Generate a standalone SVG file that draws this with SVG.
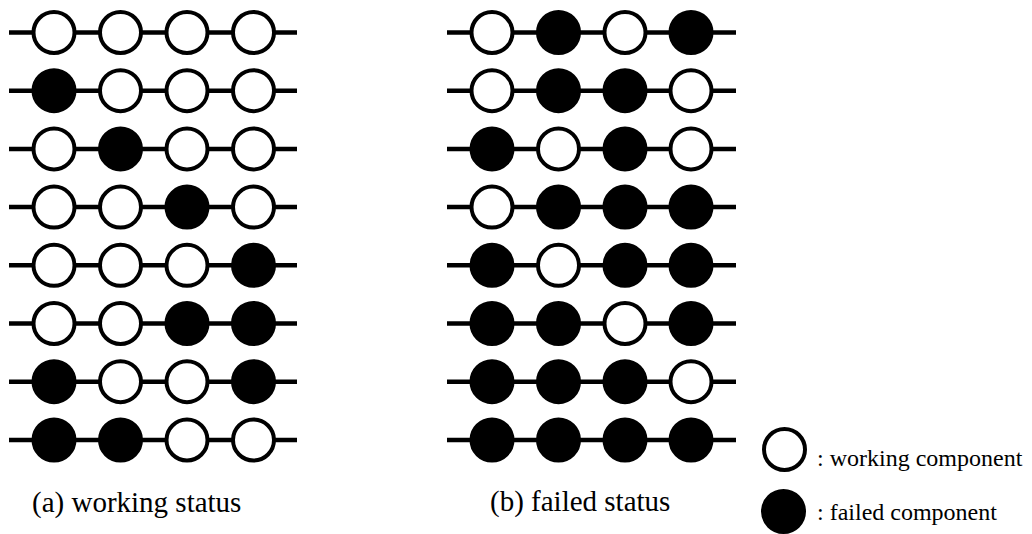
<svg xmlns="http://www.w3.org/2000/svg" width="1032" height="534" viewBox="0 0 1032 534">
<defs>
<style>
.ln{stroke:#000;stroke-width:4.5;fill:none}
.w{fill:#fff;stroke:#000;stroke-width:4}
.f{fill:#000;stroke:#000;stroke-width:4}
.t{font-family:"Liberation Serif","Times New Roman",serif;fill:#000}
</style>
<circle id="W" class="w" r="20.5"/>
<circle id="F" class="f" r="20.5"/>
</defs>
<rect width="1032" height="534" fill="#fff"/>
<g id="connectors">
<line class="ln" x1="9" y1="32.5" x2="297" y2="32.5"/>
<line class="ln" x1="9" y1="90.7" x2="297" y2="90.7"/>
<line class="ln" x1="9" y1="148.9" x2="297" y2="148.9"/>
<line class="ln" x1="9" y1="207.1" x2="297" y2="207.1"/>
<line class="ln" x1="9" y1="265.3" x2="297" y2="265.3"/>
<line class="ln" x1="9" y1="323.5" x2="297" y2="323.5"/>
<line class="ln" x1="9" y1="381.7" x2="297" y2="381.7"/>
<line class="ln" x1="9" y1="440" x2="297" y2="440"/>
<line class="ln" x1="447" y1="32.5" x2="736" y2="32.5"/>
<line class="ln" x1="447" y1="90.7" x2="736" y2="90.7"/>
<line class="ln" x1="447" y1="148.9" x2="736" y2="148.9"/>
<line class="ln" x1="447" y1="207.1" x2="736" y2="207.1"/>
<line class="ln" x1="447" y1="265.3" x2="736" y2="265.3"/>
<line class="ln" x1="447" y1="323.5" x2="736" y2="323.5"/>
<line class="ln" x1="447" y1="381.7" x2="736" y2="381.7"/>
<line class="ln" x1="447" y1="440" x2="736" y2="440"/>
</g>
<g id="panel-a">
<g id="a-row1"><use href="#W" x="54" y="32.5"/><use href="#W" x="120.5" y="32.5"/><use href="#W" x="187" y="32.5"/><use href="#W" x="253.5" y="32.5"/></g>
<g id="a-row2"><use href="#F" x="54" y="90.7"/><use href="#W" x="120.5" y="90.7"/><use href="#W" x="187" y="90.7"/><use href="#W" x="253.5" y="90.7"/></g>
<g id="a-row3"><use href="#W" x="54" y="148.9"/><use href="#F" x="120.5" y="148.9"/><use href="#W" x="187" y="148.9"/><use href="#W" x="253.5" y="148.9"/></g>
<g id="a-row4"><use href="#W" x="54" y="207.1"/><use href="#W" x="120.5" y="207.1"/><use href="#F" x="187" y="207.1"/><use href="#W" x="253.5" y="207.1"/></g>
<g id="a-row5"><use href="#W" x="54" y="265.3"/><use href="#W" x="120.5" y="265.3"/><use href="#W" x="187" y="265.3"/><use href="#F" x="253.5" y="265.3"/></g>
<g id="a-row6"><use href="#W" x="54" y="323.5"/><use href="#W" x="120.5" y="323.5"/><use href="#F" x="187" y="323.5"/><use href="#F" x="253.5" y="323.5"/></g>
<g id="a-row7"><use href="#F" x="54" y="381.7"/><use href="#W" x="120.5" y="381.7"/><use href="#W" x="187" y="381.7"/><use href="#F" x="253.5" y="381.7"/></g>
<g id="a-row8"><use href="#F" x="54" y="440"/><use href="#F" x="120.5" y="440"/><use href="#W" x="187" y="440"/><use href="#W" x="253.5" y="440"/></g>
</g>
<g id="panel-b">
<g id="b-row1"><use href="#W" x="492" y="32.5"/><use href="#F" x="558.5" y="32.5"/><use href="#W" x="625" y="32.5"/><use href="#F" x="691" y="32.5"/></g>
<g id="b-row2"><use href="#W" x="492" y="90.7"/><use href="#F" x="558.5" y="90.7"/><use href="#F" x="625" y="90.7"/><use href="#W" x="691" y="90.7"/></g>
<g id="b-row3"><use href="#F" x="492" y="148.9"/><use href="#W" x="558.5" y="148.9"/><use href="#F" x="625" y="148.9"/><use href="#W" x="691" y="148.9"/></g>
<g id="b-row4"><use href="#W" x="492" y="207.1"/><use href="#F" x="558.5" y="207.1"/><use href="#F" x="625" y="207.1"/><use href="#F" x="691" y="207.1"/></g>
<g id="b-row5"><use href="#F" x="492" y="265.3"/><use href="#W" x="558.5" y="265.3"/><use href="#F" x="625" y="265.3"/><use href="#F" x="691" y="265.3"/></g>
<g id="b-row6"><use href="#F" x="492" y="323.5"/><use href="#F" x="558.5" y="323.5"/><use href="#W" x="625" y="323.5"/><use href="#F" x="691" y="323.5"/></g>
<g id="b-row7"><use href="#F" x="492" y="381.7"/><use href="#F" x="558.5" y="381.7"/><use href="#F" x="625" y="381.7"/><use href="#W" x="691" y="381.7"/></g>
<g id="b-row8"><use href="#F" x="492" y="440"/><use href="#F" x="558.5" y="440"/><use href="#F" x="625" y="440"/><use href="#F" x="691" y="440"/></g>
</g>
<g id="captions">
<text class="t" x="32" y="512" font-size="29">(a) working status</text>
<text class="t" x="490" y="511" font-size="29">(b) failed status</text>
</g>
<g id="legend">
<g id="legend-working"><use href="#W" x="784.5" y="449.5"/><text class="t" x="817" y="466" font-size="24">: working component</text></g>
<g id="legend-failed"><use href="#F" x="783.5" y="511.5"/><text class="t" x="817" y="520" font-size="24">: failed component</text></g>
</g>
</svg>
